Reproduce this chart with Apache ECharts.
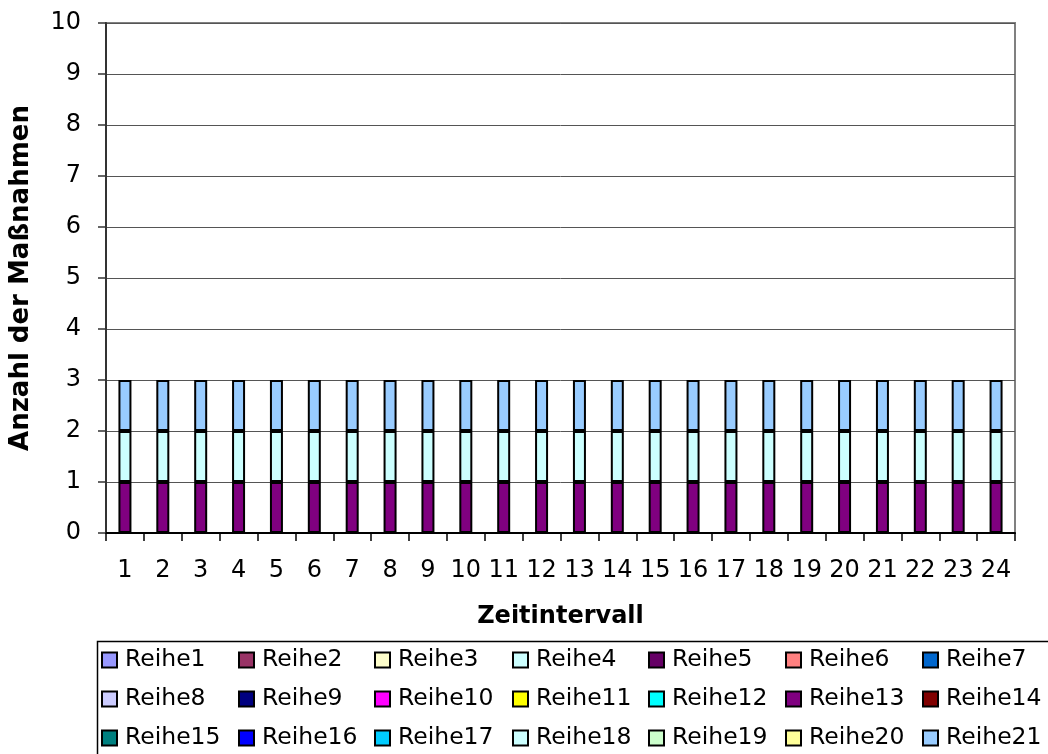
<!DOCTYPE html>
<html>
<head>
<meta charset="utf-8">
<script src="https://cdn.jsdelivr.net/npm/echarts@6/dist/echarts.min.js"></script>
<style>html,body{margin:0;padding:0;background:#fff}#c{width:1048px;height:754px}</style>
</head>
<body>
<div id="c"></div>
<script>
const categories = ['1','2','3','4','5','6','7','8','9','10','11','12','13','14','15','16','17','18','19','20','21','22','23','24'];
const seriesNames = ['Reihe1','Reihe2','Reihe3','Reihe4','Reihe5','Reihe6','Reihe7','Reihe8','Reihe9','Reihe10','Reihe11','Reihe12','Reihe13','Reihe14','Reihe15','Reihe16','Reihe17','Reihe18','Reihe19','Reihe20','Reihe21'];
const seriesColors = ['#9999FF','#993366','#FFFFCC','#CCFFFF','#660066','#FF8080','#0066CC','#CCCCFF','#000080','#FF00FF','#FFFF00','#00FFFF','#800080','#800000','#008080','#0000FF','#00CCFF','#CCFFFF','#CCFFCC','#FFFF99','#99CCFF'];
// Only three series carry values; all others are empty
const reihe13 = [1,1,1,1,1,1,1,1,1,1,1,1,1,1,1,1,1,1,1,1,1,1,1,1];
const reihe18 = [1,1,1,1,1,1,1,1,1,1,1,1,1,1,1,1,1,1,1,1,1,1,1,1];
const reihe21 = [1,1,1,1,1,1,1,1,1,1,1,1,1,1,1,1,1,1,1,1,1,1,1,1];
const seriesData = {Reihe13: reihe13, Reihe18: reihe18, Reihe21: reihe21};
const yTicks = [0,1,2,3,4,5,6,7,8,9,10];

const FONT = 'DejaVu Sans';
const series = seriesNames.map((n, i) => ({
  name: n, type: 'bar', stack: 'total',
  data: seriesData[n] || [],
  barWidth: 13,
  itemStyle: {color: seriesColors[i], borderColor: '#000', borderWidth: 2},
  emphasis: {disabled: true}
}));

const colX = [101, 238, 374, 512, 648, 785, 922];
const legends = colX.map((x, c) => ({
  orient: 'vertical', left: x, top: 647, padding: 0,
  itemWidth: 15, itemHeight: 15, itemGap: 13,
  icon: 'rect',
  itemStyle: {borderColor: '#000', borderWidth: 2},
  selectedMode: false,
  textStyle: {fontFamily: FONT, fontSize: 23.5, color: '#000', lineHeight: 26, padding: [0,0,0,3]},
  data: [seriesNames[c], seriesNames[c + 7], seriesNames[c + 14]]
}));

const chart = echarts.init(document.getElementById('c'), null, {renderer: 'canvas'});
chart.setOption({
  animation: false,
  backgroundColor: '#fff',
  grid: {left: 105, right: 33, top: 23, bottom: 221, show: true, borderColor: '#808080', borderWidth: 2},
  legend: legends,
  xAxis: {
    type: 'category', data: categories,
    name: 'Zeitintervall', nameLocation: 'middle', nameGap: 72,
    nameTextStyle: {fontFamily: FONT, fontSize: 24, fontWeight: 'bold', color: '#000'},
    axisLine: {lineStyle: {color: '#000', width: 2}},
    axisTick: {show: true, inside: false, length: 8, lineStyle: {color: '#000', width: 1.5}},
    axisLabel: {fontFamily: FONT, fontSize: 24, color: '#000', margin: 26, interval: 0}
  },
  yAxis: {
    type: 'value', min: yTicks[0], max: yTicks[yTicks.length - 1], interval: 1,
    name: 'Anzahl der Maßnahmen', nameLocation: 'middle', nameGap: 72,
    nameTextStyle: {fontFamily: FONT, fontSize: 26, fontWeight: 'bold', color: '#000'},
    axisLine: {show: true, lineStyle: {color: '#333', width: 2}},
    axisTick: {show: true, length: 8, lineStyle: {color: '#333', width: 1.5}},
    axisLabel: {fontFamily: FONT, fontSize: 24, color: '#000', margin: 25},
    splitLine: {show: true, lineStyle: {color: '#555', width: 1}}
  },
  graphic: [{
    type: 'rect', left: 95, top: 639, z: -1,
    shape: {x: 0, y: 0, width: 960, height: 200},
    style: {fill: 'none', stroke: '#000', lineWidth: 1.5}
  }],
  series: series
});
</script>
</body>
</html>
